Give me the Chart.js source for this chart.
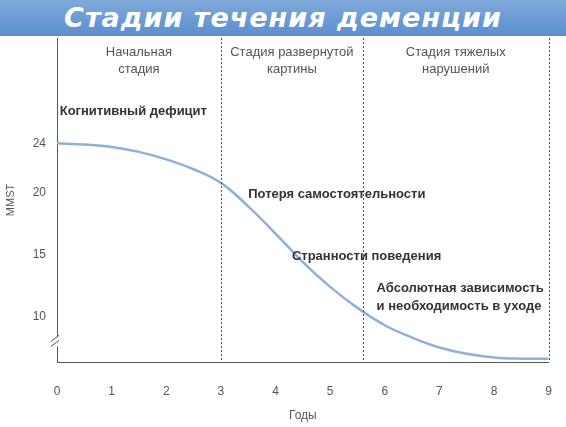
<!DOCTYPE html><html><head><meta charset="utf-8">
<script src="https://cdn.jsdelivr.net/npm/chart.js@4"></script>
<style>body{margin:0;background:#fff}#w{position:relative;width:566px;height:427px}
#b{position:absolute;left:0;top:0;width:566px;height:36px;background:linear-gradient(#7fa9d9,#5b8fcf);color:#fff;font:bold italic 27px "DejaVu Sans";text-align:center;line-height:36px;letter-spacing:1px;z-index:2}</style></head>
<body><div id="w"><div id="b">Стадии течения деменции</div><canvas id="c" width="566" height="427"></canvas></div>
<script>
const years=[0,0.5,1,1.5,2,2.5,3,3.5,4,4.5,5,5.5,6,6.5,7,7.5,8,8.5,9];
const mmst=[24,23.9,23.7,23.3,22.7,21.9,20.8,18.9,16.7,14.4,12.4,10.7,9.3,8.3,7.5,7.0,6.7,6.6,6.6];
const yTicks=[10,15,20,24];
const stageBounds=[3,5.6];
const stages=[[1.5,["Начальная","стадия"]],[4.3,["Стадия развернутой","картины"]],[7.3,["Стадия тяжелых","нарушений"]]];
const notes=[[0.05,26.3,["Когнитивный дефицит"]],[3.5,19.6,["Потеря самостоятельности"]],[4.3,14.6,["Странности поведения"]],[5.85,12.0,["Абсолютная зависимость","и необходимость в уходе"]]];
const deco={id:'deco',afterDraw(ch){const c=ch.ctx,x=ch.scales.x,y=ch.scales.y,a=ch.chartArea;c.save();
c.strokeStyle='#555';c.lineWidth=1;c.setLineDash([2,2]);
[...stageBounds,9].forEach(v=>{const px=Math.round(x.getPixelForValue(v))+0.5;c.beginPath();c.moveTo(px,a.top);c.lineTo(px,a.bottom);c.stroke();});
c.setLineDash([]);c.fillStyle='#555';c.font='13px "Liberation Sans"';c.textAlign='center';
stages.forEach(([v,l])=>l.forEach((t,i)=>c.fillText(t,x.getPixelForValue(v),a.top+18+i*17)));
c.fillStyle='#333';c.font='bold 13px "Liberation Sans"';c.textAlign='left';
notes.forEach(([v,m,l])=>l.forEach((t,i)=>c.fillText(t,x.getPixelForValue(v),y.getPixelForValue(m)+i*18)));
const bx=a.left,by=y.getPixelForValue(8);c.fillStyle='#fff';c.fillRect(bx-4,by-4,8,9);c.strokeStyle='#555';
c.beginPath();c.moveTo(bx-6,by);c.lineTo(bx+2,by-6);c.moveTo(bx-6,by+5);c.lineTo(bx+2,by-1);c.stroke();
c.restore();}};
new Chart(document.getElementById('c'),{type:'line',data:{labels:years,datasets:[{data:years.map((v,i)=>({x:v,y:mmst[i]})),borderColor:'#8fb0d8',borderWidth:2.5,pointRadius:0,tension:0.4}]},
options:{responsive:false,animation:false,layout:{padding:{top:38,right:12}},plugins:{legend:{display:false},tooltip:{enabled:false}},
scales:{x:{type:'linear',min:0,max:9,grid:{display:false,drawTicks:true,tickLength:8},border:{color:'#555'},ticks:{stepSize:1,padding:14,color:'#555',font:{size:12,family:'Liberation Sans'}},title:{display:true,text:'Годы',color:'#555',font:{size:12,family:'Liberation Sans'},padding:{top:2}},afterFit:s=>{s.height=65}},
y:{min:6.33,max:32.5,grid:{display:false},border:{color:'#555'},afterBuildTicks:s=>{s.ticks=yTicks.map(v=>({value:v}))},ticks:{color:'#555',font:{size:12,family:'Liberation Sans'}},title:{display:true,text:'MMST',color:'#555',font:{size:11,family:'Liberation Sans'}},afterFit:s=>{s.width=57}}}},plugins:[deco]});
</script></body></html>
